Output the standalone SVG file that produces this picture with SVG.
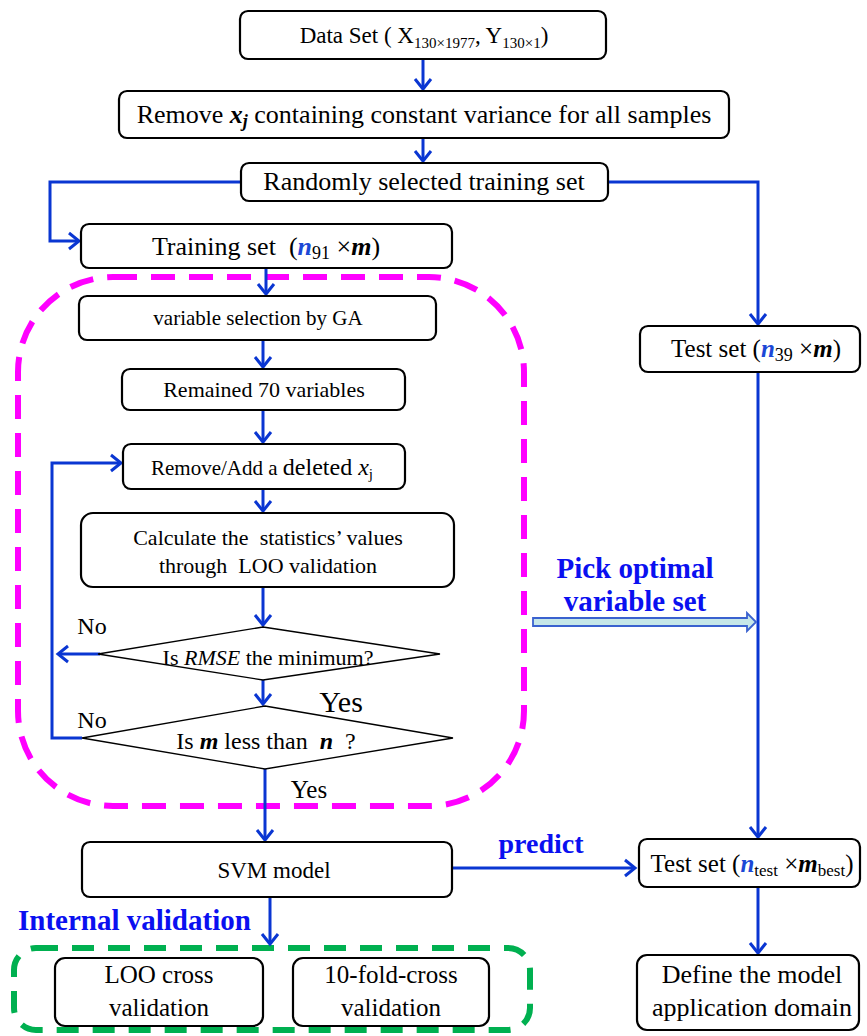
<svg xmlns="http://www.w3.org/2000/svg" width="867" height="1036" viewBox="0 0 867 1036">
<style>
.box{fill:#fff;stroke:#000;stroke-width:2.2}
.dia{fill:#fff;stroke:#000;stroke-width:1.3}
.t{font-family:"Liberation Serif","Times New Roman",serif;fill:#000;text-anchor:middle}
.c{fill:none;stroke:#0a36d2;stroke-width:3}
.lbl{font-family:"Liberation Serif","Times New Roman",serif;font-weight:bold;fill:#0a10f0}
.bi{font-weight:bold;font-style:italic}
.nb{font-weight:bold;font-style:italic;fill:#1c48d6}
</style>
<defs>
<marker id="ah" markerUnits="userSpaceOnUse" markerWidth="20" markerHeight="20" refX="13" refY="10" orient="auto" viewBox="0 0 20 20">
<path d="M3,2 L13,10 L3,18" fill="none" stroke="#0a36d2" stroke-width="3"/>
</marker>
</defs>

<!-- containers -->
<rect id="ga-loop" x="18" y="277" width="506" height="529" rx="95" ry="95" fill="none" stroke="#ff00ff" stroke-width="6" stroke-dasharray="24,14"/>
<rect id="internal" x="14" y="948" width="516" height="82" rx="22" ry="22" fill="none" stroke="#00b050" stroke-width="6" stroke-dasharray="22,14"/>

<g id="connectors">
<path class="c" d="M423,59 V89" marker-end="url(#ah)"/>
<path class="c" d="M423,138 V161" marker-end="url(#ah)"/>
<path class="c" d="M241,182 H50 V241 H79" marker-end="url(#ah)"/>
<path class="c" d="M608,182 H758 V324" marker-end="url(#ah)"/>
<path class="c" d="M266,268 V294" marker-end="url(#ah)"/>
<path class="c" d="M263,340 V367" marker-end="url(#ah)"/>
<path class="c" d="M263,410 V442" marker-end="url(#ah)"/>
<path class="c" d="M263,489 V511" marker-end="url(#ah)"/>
<path class="c" d="M263,587 V625" marker-end="url(#ah)"/>
<path class="c" d="M100,654 H58" marker-end="url(#ah)"/>
<path class="c" d="M263,680 V704" marker-end="url(#ah)"/>
<path class="c" d="M82,738 H52 V463 H121" marker-end="url(#ah)"/>
<path class="c" d="M265,769 V840" marker-end="url(#ah)"/>
<path class="c" d="M270,897 V944" marker-end="url(#ah)"/>
<path class="c" d="M452,868 H635" marker-end="url(#ah)"/>
<path class="c" d="M758,372 V837" marker-end="url(#ah)"/>
<path class="c" d="M758,887 V953" marker-end="url(#ah)"/>
<path d="M533,618 H747 V613 L756,622 L747,631 V626 H533 Z" fill="#c6e7e8" stroke="#3a62cf" stroke-width="1.8"/>
</g>

<g id="n-dataset">
<rect class="box" x="240" y="11" width="366" height="48" rx="8"/>
<text class="t" x="424" y="43" font-size="23">Data Set ( X<tspan font-size="15" dy="5">130×1977</tspan><tspan dy="-5">, Y</tspan><tspan font-size="15" dy="5">130×1</tspan><tspan dy="-5">)</tspan></text>
</g>
<g id="n-remove-const">
<rect class="box" x="119" y="91" width="610" height="47" rx="8"/>
<text class="t" x="424" y="123" font-size="26">Remove <tspan class="bi">x<tspan font-size="18" dy="4">j</tspan></tspan><tspan dy="-4"> containing constant variance for all samples</tspan></text>
</g>
<g id="n-random">
<rect class="box" x="241" y="163" width="367" height="38" rx="8"/>
<text class="t" x="424" y="190" font-size="26">Randomly selected training set</text>
</g>
<g id="n-training">
<rect class="box" x="81" y="224" width="371" height="44" rx="8"/>
<text class="t" x="266" y="255" font-size="26" xml:space="preserve">Training set  (<tspan class="nb">n</tspan><tspan font-size="18" dy="4">91</tspan><tspan dy="-4"> ×</tspan><tspan class="bi">m</tspan>)</text>
</g>
<g id="n-ga">
<rect class="box" x="79" y="296" width="357" height="44" rx="8"/>
<text class="t" x="258" y="325" font-size="21">variable selection by GA</text>
</g>
<g id="n-remained">
<rect class="box" x="122" y="369" width="283" height="41" rx="8"/>
<text class="t" x="264" y="397" font-size="22">Remained 70 variables</text>
</g>
<g id="n-removeadd">
<rect class="box" x="123" y="444" width="282" height="45" rx="8"/>
<text class="t" x="262" y="475" font-size="21">Remove/Add a <tspan font-size="24">deleted </tspan><tspan font-size="24" font-style="italic">x</tspan><tspan font-size="15" dy="4">j</tspan></text>
</g>
<g id="n-calc">
<rect class="box" x="81" y="513" width="373" height="74" rx="12"/>
<text class="t" x="268" y="545" font-size="22" xml:space="preserve">Calculate the  statistics’ values</text>
<text class="t" x="268" y="573" font-size="22" xml:space="preserve">through  LOO validation</text>
</g>
<g id="n-rmse">
<polygon class="dia" points="263,627 440,654 263,680 98,654"/>
<text class="t" x="268" y="665" font-size="22">Is <tspan font-style="italic">RMSE</tspan> the minimum?</text>
</g>
<g id="n-mless">
<polygon class="dia" points="265,706 453,738 265,769 82,738"/>
<text class="t" x="266" y="749" font-size="24" xml:space="preserve">Is <tspan class="bi">m</tspan> less than  <tspan class="bi">n</tspan>  ?</text>
</g>
<g id="n-svm">
<rect class="box" x="82" y="842" width="370" height="55" rx="8"/>
<text class="t" x="274" y="878" font-size="23">SVM model</text>
</g>
<g id="n-loo">
<rect class="box" x="55" y="958" width="208" height="68" rx="10"/>
<text class="t" x="159" y="983" font-size="25">LOO cross</text>
<text class="t" x="159" y="1016" font-size="25">validation</text>
</g>
<g id="n-10fold">
<rect class="box" x="293" y="958" width="196" height="68" rx="10"/>
<text class="t" x="391" y="983" font-size="25">10-fold-cross</text>
<text class="t" x="391" y="1016" font-size="25">validation</text>
</g>
<g id="n-test39">
<rect class="box" x="640" y="326" width="220" height="46" rx="8"/>
<text class="t" x="756" y="357" font-size="25">Test set (<tspan class="nb">n</tspan><tspan font-size="18" dy="4">39</tspan><tspan dy="-4"> ×</tspan><tspan class="bi">m</tspan>)</text>
</g>
<g id="n-testbest">
<rect class="box" x="639" y="839" width="221" height="48" rx="8"/>
<text class="t" x="752" y="872" font-size="25">Test set (<tspan class="nb">n</tspan><tspan font-size="17" dy="4">test</tspan><tspan dy="-4"> ×</tspan><tspan class="bi">m</tspan><tspan font-size="17" dy="4">best</tspan><tspan dy="-4">)</tspan></text>
</g>
<g id="n-define">
<rect class="box" x="637" y="955" width="222" height="75" rx="10"/>
<text class="t" x="752" y="983" font-size="26">Define the model</text>
<text class="t" x="752" y="1016" font-size="26">application domain</text>
</g>

<g id="labels">
<text class="t" x="92" y="634" font-size="24">No</text>
<text class="t" x="92" y="728" font-size="24">No</text>
<text class="t" x="341" y="712" font-size="30">Yes</text>
<text class="t" x="309" y="798" font-size="25">Yes</text>
<text class="lbl" x="635" y="578" font-size="29" text-anchor="middle">Pick optimal</text>
<text class="lbl" x="635" y="611" font-size="29" text-anchor="middle">variable set</text>
<text class="lbl" x="541" y="853" font-size="28" text-anchor="middle">predict</text>
<text class="lbl" x="18" y="930" font-size="29">Internal validation</text>
</g>
</svg>
